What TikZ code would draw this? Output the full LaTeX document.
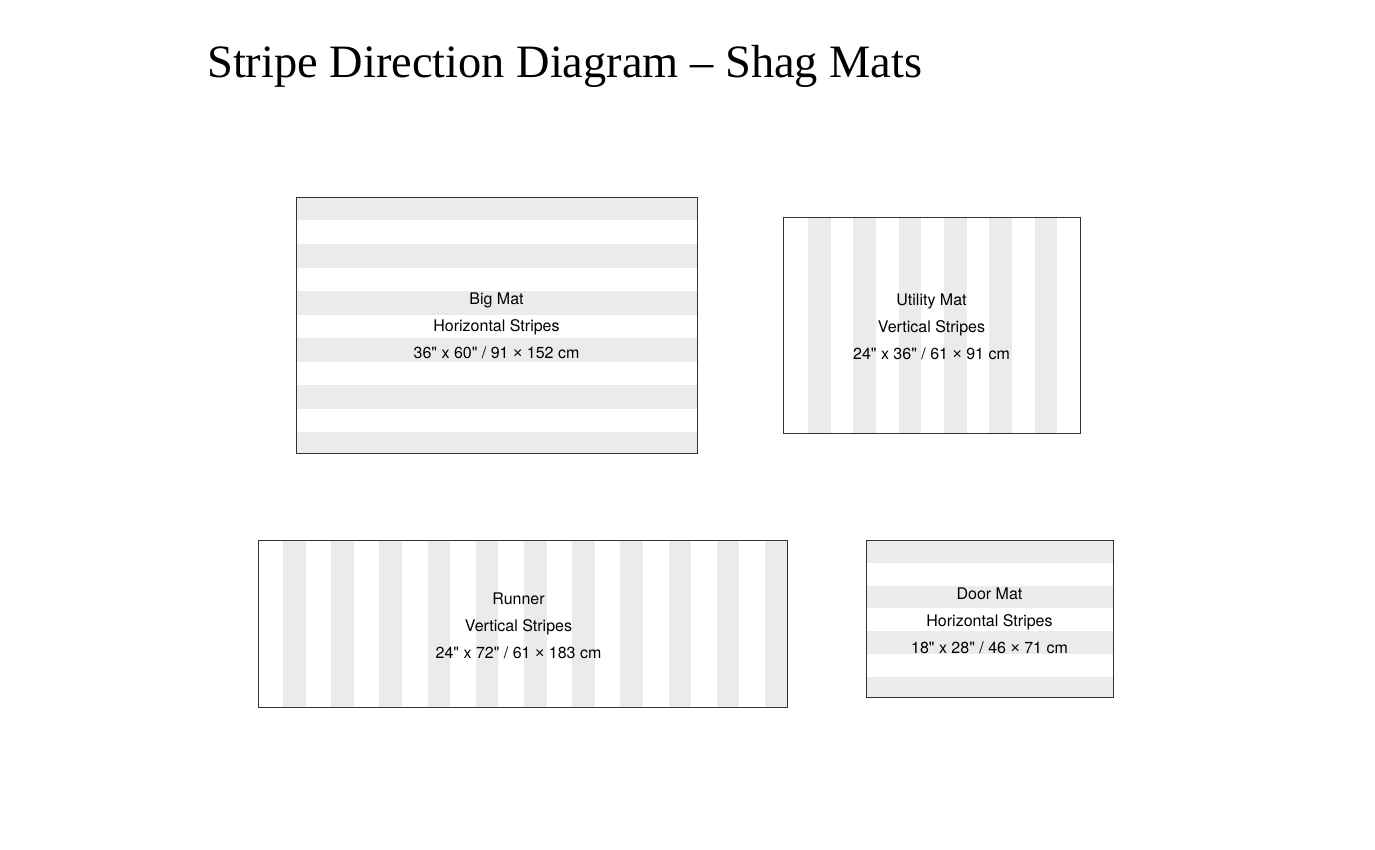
\documentclass[tikz,border=0pt]{standalone}
\usepackage{fontspec}
\setmainfont{Liberation Serif}
\newfontfamily\labelfont{TeX Gyre Heros}
\newfontfamily\timesfont{Liberation Sans}
\newcommand{\mtimes}{{\timesfont ×}}
\definecolor{stripegray}{HTML}{EBEBEB}
\definecolor{edgegray}{HTML}{333333}
\tikzset{
  matbox/.style={draw=edgegray, line width=0.9pt},
  stripe/.style={fill=stripegray},
  matlabel/.style={align=center, font=\labelfont\fontsize{16}{27}\selectfont, text=black, inner sep=0pt},
  titletext/.style={anchor=base west, font=\fontsize{46.4}{50}\selectfont, inner sep=0pt}
}
\begin{document}
\begin{tikzpicture}[x=1pt,y=-1pt]
\useasboundingbox (0,0) rectangle (1375,850);
\fill[white] (0,0) rectangle (1375,850);
\node[titletext] (title) at (207,78) {Stripe Direction Diagram – Shag Mats};

% Big Mat: horizontal stripes
\begin{scope}
  \clip (296,197) rectangle (697,453);
  \foreach \i in {0,...,5} \fill[stripe] (296,197+47*\i) rectangle (697,197+47*\i+23.5);
\end{scope}
\draw[matbox] (296,197) rectangle (697,453);
\node[matlabel] (big) at (496.5,326) {Big Mat\\Horizontal Stripes\\36" x 60" / 91 \mtimes{} 152 cm};

% Utility Mat: vertical stripes
\begin{scope}
  \clip (783,217) rectangle (1080,433);
  \foreach \i in {0,...,5} \fill[stripe] (808+45.3*\i,217) rectangle (808+45.3*\i+22.6,433);
\end{scope}
\draw[matbox] (783,217) rectangle (1080,433);
\node[matlabel] (utility) at (931.5,327) {Utility Mat\\Vertical Stripes\\24" x 36" / 61 \mtimes{} 91 cm};

% Runner: vertical stripes
\begin{scope}
  \clip (258,540) rectangle (787,707);
  \foreach \i in {0,...,10} \fill[stripe] (283+48.2*\i,540) rectangle (283+48.2*\i+22.5,707);
\end{scope}
\draw[matbox] (258,540) rectangle (787,707);
\node[matlabel] (runner) at (518.5,625.5) {Runner\\Vertical Stripes\\24" x 72" / 61 \mtimes{} 183 cm};

% Door Mat: horizontal stripes
\begin{scope}
  \clip (866,540) rectangle (1113,697);
  \foreach \i in {0,...,3} \fill[stripe] (866,540+45.5*\i) rectangle (1113,540+45.5*\i+22.7);
\end{scope}
\draw[matbox] (866,540) rectangle (1113,697);
\node[matlabel] (door) at (989.5,620.5) {Door Mat\\Horizontal Stripes\\18" x 28" / 46 \mtimes{} 71 cm};
\end{tikzpicture}
\end{document}
